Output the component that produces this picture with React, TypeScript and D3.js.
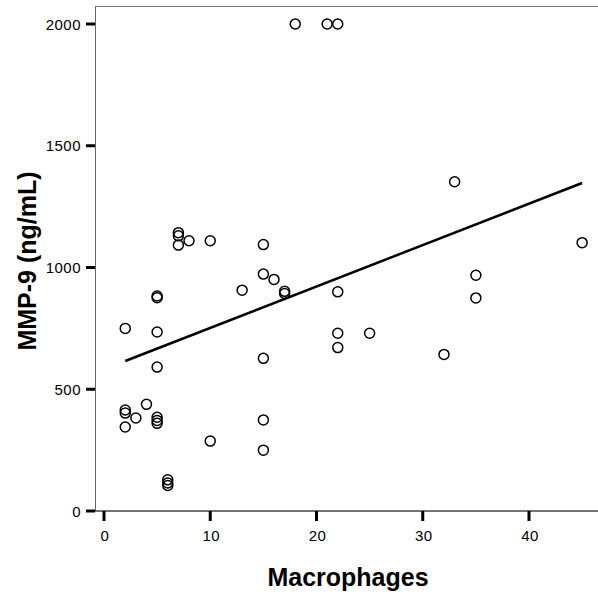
import React, { useEffect, useRef } from 'react';
import * as d3 from 'd3';

// Macrophages (x) vs MMP-9 ng/mL (y)
const macrophages = [
  18, 21, 22, 2, 2, 2, 2, 3, 4, 5, 5, 5, 5, 5, 5, 5, 6, 6, 6, 7, 7, 7, 8, 10, 10,
  13, 15, 15, 15, 15, 15, 16, 17, 17, 22, 22, 22, 25, 32, 33, 35, 35, 45,
];
const mmp9 = [
  2000, 2000, 2000, 750, 415, 402, 345, 382, 438, 385, 372, 360, 591, 735, 883, 876,
  128, 115, 105, 1143, 1130, 1092, 1110, 1110, 287, 907, 1094, 973, 627, 374, 250,
  951, 902, 893, 900, 730, 671, 730, 643, 1352, 968, 875, 1102,
];
const xTicks = [0, 10, 20, 30, 40];
const yTicks = [0, 500, 1000, 1500, 2000];
// fitted line
const fitIntercept = 582;
const fitSlope = 17.0;
const fitRange = [2, 45];

const App = () => {
  const svgRef = useRef(null);

  useEffect(() => {
    const width = 598;
    const height = 595;
    const left = 95;
    const top = 6;
    const right = 598;
    const bottom = 511;

    const svg = d3.select(svgRef.current);
    svg.selectAll('*').remove();
    svg.attr('width', width).attr('height', height);

    const x = d3.scaleLinear().domain([0, 40]).range([104, 529]);
    const y = d3.scaleLinear().domain([0, 2000]).range([bottom, 24]);

    const tickFont = '"Liberation Sans", Arial, sans-serif';
    const titleFont = '"Liberation Sans", Arial, sans-serif';

    // frame
    svg.append('line')
      .attr('x1', left).attr('x2', right).attr('y1', top + 0.5).attr('y2', top + 0.5)
      .attr('stroke', '#777').attr('stroke-width', 1);
    svg.append('line')
      .attr('x1', left + 0.5).attr('x2', left + 0.5).attr('y1', top).attr('y2', bottom)
      .attr('stroke', '#666').attr('stroke-width', 1);
    svg.append('line')
      .attr('x1', left).attr('x2', right).attr('y1', bottom).attr('y2', bottom)
      .attr('stroke', '#444').attr('stroke-width', 1.5);

    // y ticks
    const yt = svg.append('g');
    yt.selectAll('line')
      .data(yTicks)
      .enter()
      .append('line')
      .attr('x1', 86).attr('x2', left)
      .attr('y1', d => y(d)).attr('y2', d => y(d))
      .attr('stroke', '#000').attr('stroke-width', 3);
    yt.selectAll('text')
      .data(yTicks)
      .enter()
      .append('text')
      .attr('x', 81)
      .attr('y', d => y(d) + 5.5)
      .attr('text-anchor', 'end')
      .style('font-family', tickFont)
      .style('font-size', '15px')
      .style('letter-spacing', '0.5px')
      .text(d => d);

    // x ticks
    const xt = svg.append('g');
    xt.selectAll('line')
      .data(xTicks)
      .enter()
      .append('line')
      .attr('x1', d => x(d)).attr('x2', d => x(d))
      .attr('y1', bottom).attr('y2', 521)
      .attr('stroke', '#000').attr('stroke-width', 3);
    xt.selectAll('text')
      .data(xTicks)
      .enter()
      .append('text')
      .attr('x', d => x(d) + 1)
      .attr('y', 541)
      .attr('text-anchor', 'middle')
      .style('font-family', tickFont)
      .style('font-size', '15px')
      .style('letter-spacing', '0.5px')
      .text(d => d);

    // regression line
    svg.append('line')
      .attr('x1', x(fitRange[0])).attr('x2', x(fitRange[1]))
      .attr('y1', y(fitIntercept + fitSlope * fitRange[0]))
      .attr('y2', y(fitIntercept + fitSlope * fitRange[1]))
      .attr('stroke', '#000').attr('stroke-width', 2.5);

    // points
    svg.append('g')
      .selectAll('circle')
      .data(macrophages.map((m, i) => [m, mmp9[i]]))
      .enter()
      .append('circle')
      .attr('cx', d => x(d[0]))
      .attr('cy', d => y(d[1]))
      .attr('r', 5)
      .attr('fill', 'none')
      .attr('stroke', '#000')
      .attr('stroke-width', 1.5);

    // axis titles
    svg.append('text')
      .attr('x', 348)
      .attr('y', 586)
      .attr('text-anchor', 'middle')
      .style('font-family', titleFont)
      .style('font-size', '25px')
      .style('font-weight', 'bold')
      .text('Macrophages');

    svg.append('text')
      .attr('transform', 'translate(36, 261) rotate(-90)')
      .attr('text-anchor', 'middle')
      .style('font-family', titleFont)
      .style('font-size', '25px')
      .style('font-weight', 'bold')
      .text('MMP-9 (ng/mL)');
  }, []);

  return (
    <svg
      ref={svgRef}
      style={{ position: 'absolute', left: 0, top: 0, background: '#fff' }}
    ></svg>
  );
};

export default App;
